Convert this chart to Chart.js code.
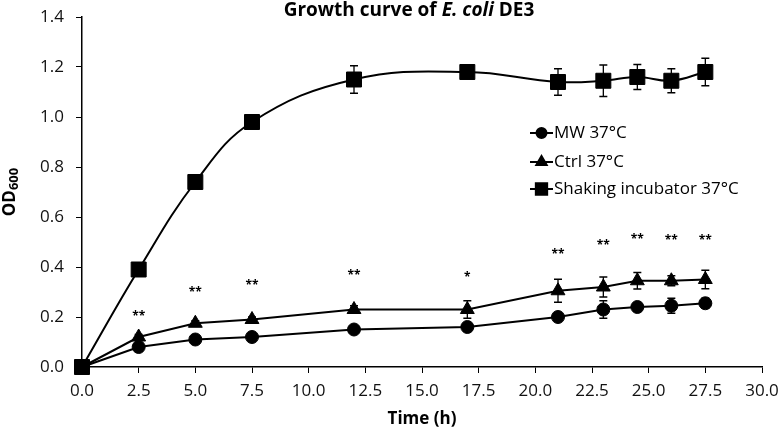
<!DOCTYPE html>
<html>
<head>
<meta charset="utf-8">
<script src="https://cdn.jsdelivr.net/npm/chart.js@4.4.1/dist/chart.umd.min.js"></script>
<style>
html, body { margin: 0; padding: 0; background: #fff; }
#wrap { width: 782px; height: 433px; }
</style>
</head>
<body>
<div id="wrap"><canvas id="growthChart" width="782" height="433"></canvas></div>
<script>
// 采样时间 (h)
const timePoints = [0, 2.5, 5, 7.5, 12, 17, 21, 23, 24.5, 26, 27.5];

// 各组 OD600 均值与误差
const mwValues      = [0, 0.08, 0.11, 0.12, 0.15, 0.16, 0.20, 0.23, 0.24, 0.245, 0.255];
const mwErrors      = [0, 0.01, 0.01, 0.01, 0.01, 0.01, 0.012, 0.035, 0.015, 0.03, 0.02];
const ctrlValues    = [0, 0.12, 0.175, 0.19, 0.23, 0.23, 0.305, 0.32, 0.345, 0.345, 0.35];
const ctrlErrors    = [0, 0.01, 0.01, 0.01, 0.015, 0.035, 0.046, 0.04, 0.033, 0.02, 0.037];
const shakingValues = [0, 0.39, 0.74, 0.98, 1.15, 1.18, 1.14, 1.145, 1.16, 1.145, 1.18];
const shakingErrors = [0, 0.01, 0.01, 0.015, 0.055, 0.01, 0.053, 0.063, 0.05, 0.048, 0.055];

// 显著性标记
const sigLabels  = ['', '**', '**', '**', '**', '*', '**', '**', '**', '**', '**'];
const sigHeights = [null, 0.20, 0.296, 0.324, 0.364, 0.359, 0.448, 0.484, 0.511, 0.504, 0.504];

const seriesLabels = ['MW 37°C', 'Ctrl 37°C', 'Shaking incubator 37°C'];
const errorSets = [mwErrors, ctrlErrors, shakingErrors];

const FONT = '"Open Sans", "Liberation Sans", sans-serif';

function toPoints(values) {
    return timePoints.map((t, i) => ({ x: t, y: values[i] }));
}

// 误差线
const errorBarPlugin = {
    id: 'errorBars',
    beforeDatasetsDraw(chart) {
        const ctx = chart.ctx, xs = chart.scales.x, ys = chart.scales.y;
        ctx.save();
        ctx.strokeStyle = '#000';
        ctx.lineWidth = 1.3;
        chart.data.datasets.forEach((ds, di) => {
            errorSets[di].forEach((e, i) => {
                if (!e) return;
                const px = xs.getPixelForValue(ds.data[i].x);
                const top = ys.getPixelForValue(ds.data[i].y + e);
                const bot = ys.getPixelForValue(ds.data[i].y - e);
                ctx.beginPath();
                ctx.moveTo(px, top); ctx.lineTo(px, bot);
                ctx.moveTo(px - 4, top); ctx.lineTo(px + 4, top);
                ctx.moveTo(px - 4, bot); ctx.lineTo(px + 4, bot);
                ctx.stroke();
            });
        });
        ctx.restore();
    }
};

// 标题、坐标轴标题、星号、图例
const annotatePlugin = {
    id: 'annotate',
    afterDraw(chart) {
        const ctx = chart.ctx, xs = chart.scales.x, ys = chart.scales.y;
        ctx.save();
        ctx.fillStyle = '#000';
        ctx.textBaseline = 'middle';

        // 标题（斜体部分单独绘制）
        const parts = [
            ['Growth curve of ', 'bold 19px ' + FONT],
            ['E. coli', 'italic bold 19px ' + FONT],
            [' DE3', 'bold 19px ' + FONT]
        ];
        let total = 0;
        parts.forEach(p => { ctx.font = p[1]; total += ctx.measureText(p[0]).width; });
        let tx = 409 - total / 2;
        ctx.textAlign = 'left';
        parts.forEach(p => {
            ctx.font = p[1];
            ctx.fillText(p[0], tx, 11);
            tx += ctx.measureText(p[0]).width;
        });

        // x 轴标题
        ctx.textAlign = 'center';
        ctx.font = 'bold 17px ' + FONT;
        ctx.fillText('Time (h)', 422, 419);

        // y 轴标题 OD600
        ctx.save();
        ctx.translate(15, 192);
        ctx.rotate(-Math.PI / 2);
        ctx.textAlign = 'left';
        ctx.textBaseline = 'alphabetic';
        ctx.font = 'bold 17px ' + FONT;
        const odW = ctx.measureText('OD').width;
        ctx.font = 'bold 13px ' + FONT;
        const subW = ctx.measureText('600').width;
        const sx = -(odW + subW) / 2;
        ctx.font = 'bold 17px ' + FONT;
        ctx.fillText('OD', sx, 0);
        ctx.font = 'bold 13px ' + FONT;
        ctx.fillText('600', sx + odW, 3);
        ctx.restore();

        // 显著性星号
        ctx.textAlign = 'center';
        ctx.font = 'bold 12px ' + FONT;
        sigLabels.forEach((s, i) => {
            if (!s) return;
            ctx.fillText(s, xs.getPixelForValue(timePoints[i]), ys.getPixelForValue(sigHeights[i]));
        });

        // 图例
        const rows = [133, 162, 189];
        const legendRadius = [5, 6, 8];
        chart.data.datasets.forEach((ds, i) => {
            const y = rows[i];
            ctx.strokeStyle = '#000';
            ctx.lineWidth = 2;
            ctx.beginPath();
            ctx.moveTo(530, y); ctx.lineTo(553, y);
            ctx.stroke();
            ctx.fillStyle = '#000';
            Chart.helpers.drawPoint(ctx, {
                pointStyle: ds.pointStyle, radius: legendRadius[i], rotation: 0, borderWidth: 1
            }, 541.5, y);
            ctx.fillStyle = '#000';
            ctx.font = '17px ' + FONT;
            ctx.textAlign = 'left';
            ctx.fillText(ds.label, 554, y);
        });

        ctx.restore();
    }
};

function initChart() {
    const ctx = document.getElementById('growthChart').getContext('2d');
    const common = {
        borderColor: '#000',
        backgroundColor: '#000',
        pointBackgroundColor: '#000',
        pointBorderColor: '#000',
        borderWidth: 2,
        pointBorderWidth: 1,
        clip: false
    };
    new Chart(ctx, {
        type: 'line',
        data: {
            datasets: [
                Object.assign({}, common, {
                    label: seriesLabels[0], data: toPoints(mwValues),
                    pointStyle: 'circle', pointRadius: 6.5, tension: 0
                }),
                Object.assign({}, common, {
                    label: seriesLabels[1], data: toPoints(ctrlValues),
                    pointStyle: 'triangle', pointRadius: 8, tension: 0
                }),
                Object.assign({}, common, {
                    label: seriesLabels[2], data: toPoints(shakingValues),
                    pointStyle: 'rect', pointRadius: 10.6, tension: 0.4
                })
            ]
        },
        options: {
            responsive: false,
            animation: false,
            devicePixelRatio: 1,
            layout: { padding: { top: 17, right: 20, left: 0, bottom: 0 } },
            plugins: {
                legend: { display: false },
                title: { display: false },
                tooltip: { enabled: false }
            },
            scales: {
                x: {
                    type: 'linear',
                    min: 0,
                    max: 30,
                    grid: { drawOnChartArea: false, drawTicks: true, tickLength: 6, color: '#000' },
                    border: { color: '#000', width: 1.5 },
                    ticks: {
                        stepSize: 2.5,
                        padding: 8,
                        color: '#111',
                        font: { family: FONT, size: 17 },
                        maxRotation: 0,
                        callback: v => v.toFixed(1)
                    },
                    afterFit: scale => {
                        scale.height = 66;
                        scale.paddingLeft = 0;
                        scale.paddingRight = 0;
                    }
                },
                y: {
                    min: 0,
                    max: 1.4,
                    grid: { drawOnChartArea: false, drawTicks: true, tickLength: 6, color: '#000' },
                    border: { color: '#000', width: 1.5 },
                    ticks: {
                        stepSize: 0.2,
                        padding: 12,
                        color: '#111',
                        font: { family: FONT, size: 17 },
                        callback: v => v.toFixed(1)
                    },
                    afterFit: scale => {
                        scale.width = 82;
                        scale.paddingTop = 0;
                        scale.paddingBottom = 0;
                    }
                }
            }
        },
        plugins: [errorBarPlugin, annotatePlugin]
    });
}

document.addEventListener('DOMContentLoaded', initChart);
</script>
</body>
</html>
